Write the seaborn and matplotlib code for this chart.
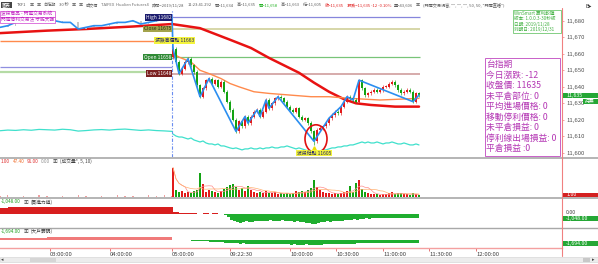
import numpy as np
import pandas as pd
import seaborn as sns
import matplotlib
matplotlib.use("Agg")
import matplotlib.pyplot as plt
from matplotlib.patches import Rectangle, Ellipse
from matplotlib.lines import Line2D

sns.set_theme(style="white")
plt.rcParams['font.family'] = ['Noto Sans CJK TC', 'DejaVu Sans']
plt.rcParams['axes.unicode_minus'] = False

# ---------------- data ----------------
night_close = [11676, 11677, 11679, 11680, 11680, 11681, 11681, 11680, 11679, 11679, 11675, 11676,
               11677, 11677, 11678, 11679, 11679, 11680, 11678, 11679, 11680, 11681, 11682]
day_open = 11658
day_low = 11605
day_change = -12
day_close = [11663, 11655, 11648, 11651, 11655, 11657, 11653, 11649, 11641, 11634,
             11639, 11644, 11645, 11642, 11644, 11640, 11643, 11637, 11631, 11626,
             11620, 11613, 11619, 11616, 11622, 11618, 11622, 11625, 11626, 11622,
             11625, 11632, 11627, 11630, 11633, 11634, 11633, 11631, 11628, 11626,
             11625, 11627, 11622, 11620, 11621, 11618, 11613, 11607, 11614, 11615,
             11616, 11618, 11621, 11623, 11625, 11624, 11628, 11631, 11634, 11633,
             11632, 11631, 11644, 11639, 11635, 11636, 11637, 11638, 11637, 11638,
             11640, 11640, 11642, 11643, 11641, 11638, 11636, 11637, 11638, 11637,
             11631, 11636, 11635]
zigzag_pivots = [0, 2, 5, 9, 12, 21, 24, 25, 28, 29, 31, 32, 35, 47, 52, 56, 58, 60, 62, 80, 82]

red_ma_night_idx = [0, 6, 11, 17, 22]
red_ma_night = [11672.5, 11674, 11675, 11676.5, 11678]
red_ma_day_idx = [0, 9, 19, 26, 32, 42, 47, 52, 57, 61, 66, 74, 82]
red_ma_day = [11678, 11675.5, 11668.5, 11663.5, 11657.5, 11648.5, 11642.5, 11637, 11632.5, 11630, 11629, 11628, 11628]
orange_night_level = 11668
orange_day_idx = [0, 2, 6, 9, 12, 16, 19, 22, 27, 32, 39, 46, 52, 59, 69, 82]
orange_day = [11660, 11658, 11655, 11650, 11648, 11645, 11642, 11640, 11637, 11636, 11635, 11634, 11634, 11633, 11632, 11633]

cyan_night = [11613.4, 11613.8, 11613.6, 11614.0, 11613.7, 11614.2, 11614.0, 11613.8, 11614.3, 11614.0,
              11613.2, 11613.5, 11613.9, 11614.1, 11613.8, 11614.2, 11614.4, 11614.0, 11613.6, 11613.9,
              11613.5, 11613.3, 11613.0]
cyan_day = [11611.4, 11610.2, 11609.6, 11609.6, 11609.0, 11608.4, 11609.0, 11607.8, 11607.2, 11606.6,
            11607.2, 11606.0, 11605.4, 11605.4, 11604.8, 11605.4, 11604.2, 11604.2, 11603.6, 11603.0,
            11602.6, 11603.0, 11602.4, 11601.8, 11602.4, 11602.4, 11603.0, 11602.4, 11602.4, 11603.0,
            11602.4, 11603.0, 11603.0, 11603.6, 11603.0, 11603.0, 11603.6, 11603.6, 11604.2, 11603.6,
            11603.0, 11602.4, 11603.0, 11602.4, 11601.8, 11601.2, 11601.2, 11600.6, 11601.2, 11601.2,
            11601.8, 11601.8, 11602.4, 11603.0, 11603.0, 11603.6, 11603.6, 11604.2, 11604.2, 11604.8,
            11604.8, 11605.4, 11606.0, 11606.6, 11606.0, 11606.6, 11606.0, 11606.0, 11606.6, 11606.0,
            11605.4, 11606.0, 11606.0, 11606.6, 11606.0, 11605.4, 11605.4, 11606.0, 11605.4, 11604.8,
            11604.8, 11605.4, 11604.8]

lines_day = {"High": 11682, "Close": 11675, "Open": 11658, "Low": 11648}
prev_lines = [11652, 11649]
day_high_label = 11663

vol_night = [5, 10, 0, 5, 0, 10, 5, 0, 5, 0, 10, 5, 0, 5, 0, 10, 5, 5, 0, 10, 5, 10, 5]
vol_day = [270, 60, 40, 50, 30, 40, 30, 50, 60, 220,
           120, 40, 60, 50, 40, 30, 50, 70, 90, 110,
           120, 90, 60, 80, 50, 100, 60, 40, 30, 40,
           30, 50, 30, 30, 40, 20, 30, 20, 30, 20,
           30, 50, 40, 50, 40, 60, 80, 150, 90, 60,
           40, 30, 30, 20, 30, 20, 30, 40, 50, 100,
           40, 130, 150, 70, 40, 30, 20, 20, 20, 10,
           20, 20, 30, 40, 20, 30, 30, 20, 20, 10,
           30, 20, 10]

buy_night = [1700, 1750, 1750, 1800, 1800, 1800, 1850, 1900, 1850, 1800, 1800, 1800,
             1750, 1800, 1800, 1800, 1750, 1800, 1800, 1800, 1800, 1800, 1800]
buy_day = [400, 400, 350, 350, 300, 300, 300, 250, 200, -600,
           200, 150, 0, 200, 150, 100, 0, -300, -900, -1500,
           -1900, -2200, -2300, -2100, -2000, -2200, -2100, -1900, -1800, -1900,
           -2000, -1800, -1700, -1900, -2000, -1800, -1700, -1800, -1900, -2000,
           -2100, -2000, -2100, -2200, -2300, -2400, -2800, -2600, -2300, -2200,
           -2100, -2000, -2100, -2000, -1900, -2000, -1800, -1700, -1600, -1500,
           -1400, -1500, -1300, -1300, -1200, -1300, -1200, -1200, -1100, -1200,
           -1100, -1100, -1200, -1100, -1100, -1000, -1100, -1100, -1000, -1100,
           -1100, -1000, -1048]
big_night = [600, 650, 600, 600, 650, 600, 1200, 1250, 1200, 1200, 1250, 1200,
             1200, 1200, 1250, 1200, 1200, 1200, 1250, 1200, 1200, 1200, 1200]
big_day = [-100, -150, -300, -350, -500, -450, -600, -700, -750, -900,
           -950, -1100, -1150, -1300, -1350, -1500, -1550, -1700, -1800, -1850,
           -2000, -2100, -2300, -2200, -2300, -2400, -2450, -2500, -2550, -2500,
           -2600, -2650, -2700, -2650, -2700, -2750, -2800, -2750, -2800, -2850,
           -2800, -2850, -2900, -2850, -2800, -2900, -3000, -2950, -2900, -2850,
           -2800, -2750, -2700, -2650, -2600, -2550, -2500, -2450, -2400, -2350,
           -2300, -2250, -2200, -2150, -2100, -2100, -2050, -2000, -2000, -1950,
           -1900, -1900, -1850, -1850, -1800, -1800, -1750, -1750, -1750, -1700,
           -1700, -1700, -1694]

time_labels = ["03:00:00", "04:00:00", "05:00:00", "09:22:30", "10:00:00",
               "10:30:00", "11:00:00", "11:30:00", "12:00:00"]
time_ticks = [50, 110, 172, 230, 290, 336, 383, 429, 476]

toolbar_items = [("TXF1", '#606060'), ("▣", '#505050'), ("▣", '#505050'), ("台指期", '#606060'),
                 ("30 秒", '#606060'), ("▣", '#505050'), ("▣", '#505050'), ("成交價", '#606060'),
                 ("TAIFEX  Hualien Futures4", '#707070'), ("時間=2019/11/28", '#606060'),
                 ("11:23:41.292", '#606060'), ("開=11,634", '#606060'), ("高=11,635", '#606060'),
                 ("開=11,658", '#20b020'), ("高=11,663", '#606060'), ("低=11,605", '#606060'),
                 ("收=11,635", '#e02020'), ("漲跌=11,635 -12 -0.10%", '#e02020'),
                 ("量=43,606", '#606060'), ("▣", '#505050'),
                 ('(閃電交易視窗, "", "", "", 50, 50, "閃電直播")', '#606060')]
vol_header = [("1.00", '#e03030'), ("47.40", '#f07030'), ("91.00", '#e03030'), ("0.00", '#909090'),
              ("▣", '#404040'), ("(成交量*, 5, 10)", '#404040')]
buy_header = [("-1,048.00", '#20a020'), ("▣", '#404040'), ("(買進力道)", '#404040')]
big_header = [("-1,694.00", '#20a020'), ("▣", '#404040'), ("(大戶籌碼)", '#404040')]

# ---------------- figure ----------------
W, H = 598, 264
fig = plt.figure(figsize=(W / 100, H / 100), dpi=100)
fig.patch.set_facecolor('white')

def rect(x0, y0, x1, y1):
    return [x0 / W, 1 - y1 / H, (x1 - x0) / W, (y1 - y0) / H]

def fx(x):
    return x / W

def fy(y):
    return 1 - y / H

def ftext(x, y, s, **kw):
    kw.setdefault('va', 'center')
    kw.setdefault('ha', 'left')
    return fig.text(fx(x), fy(y), s, **kw)

def fbox(x0, y0, x1, y1, fc, ec='none', lw=0.6, z=1):
    fig.add_artist(Rectangle((fx(x0), fy(y1)), (x1 - x0) / W, (y1 - y0) / H,
                             transform=fig.transFigure, fc=fc, ec=ec, lw=lw, zorder=z))

def fline(x0, y0, x1, y1, color, lw, ls='-'):
    fig.add_artist(Line2D([fx(x0), fx(x1)], [fy(y0), fy(y1)], color=color, lw=lw, ls=ls))

renderer = fig.canvas.get_renderer()

def flow(x, y, items, size, gap):
    cx = x
    for s, c in items:
        t = ftext(cx, y, s, fontsize=size, color=c)
        cx = t.get_window_extent(renderer=renderer).x1 + gap

ax = fig.add_axes(rect(0, 10, 562, 157))
ax_v = fig.add_axes(rect(0, 159, 562, 196.5))
ax_b = fig.add_axes(rect(0, 198.5, 562, 227.5))
ax_d = fig.add_axes(rect(0, 228.5, 562, 247.5))
for a in (ax, ax_v, ax_b, ax_d):
    a.set_xlim(0, 562)
    a.set_facecolor('white')
    for s in a.spines.values():
        s.set_visible(False)
    a.set_xticks([])
    a.set_yticks([])
    a.grid(False)

RED = '#e21b1b'
GREEN = '#13a313'

night_x = np.linspace(0, 172, len(night_close))
day_x = 173 + np.arange(len(day_close)) * 3.0
d_close = np.array(day_close, dtype=float)
d_open = np.array([day_open] + day_close[:-1], dtype=float)
up = d_close >= d_open
cols = np.where(up, RED, GREEN)

# ---------- main price panel ----------
ax.set_ylim(11597.5, 11686.5)
ax.yaxis.tick_right()
yt = list(range(11600, 11681, 10))
ax.set_yticks(yt)
ax.set_yticklabels([f"{v:,}" for v in yt])
ax.tick_params(axis='y', labelsize=4.3, labelcolor='#505050', color='#f08080',
               length=1.5, width=0.5, pad=2)

ax.hlines(prev_lines[0], 0, 172, color='#8f8fe0', lw=0.9, zorder=2)
ax.hlines(prev_lines[1], 0, 172, color='#b5dba5', lw=1.6, zorder=2)
ax.hlines(orange_night_level, 0, 155, color='#ff8a4c', lw=1.0, zorder=2)

x_end = day_x[-1] + 1
ax.hlines(lines_day["High"], 172, x_end, color='#8686dc', lw=0.9, zorder=2)
ax.hlines(lines_day["Close"], 172, x_end, color='#d6d6a8', lw=1.4, zorder=2)
ax.hlines(lines_day["Open"], 172, x_end, color='#78c478', lw=0.9, zorder=2)
ax.hlines(lines_day["Low"], 172, x_end, color='#cc9494', lw=1.1, zorder=2)

ax.axvline(172, color='#6a8df0', lw=0.8, ls=(0, (3, 1.5, 1, 1.5)), zorder=1)

sns.lineplot(x=night_x, y=cyan_night, ax=ax, color='#3fe0cc', lw=0.9, sort=False, estimator=None, legend=False)
sns.lineplot(x=day_x, y=cyan_day, ax=ax, color='#3fe0cc', lw=0.9, sort=False, estimator=None, legend=False)

sns.lineplot(x=night_x[red_ma_night_idx], y=red_ma_night, ax=ax, color='#e81212', lw=1.8,
             sort=False, estimator=None, legend=False)
sns.lineplot(x=np.r_[172, day_x[red_ma_day_idx][1:]], y=red_ma_day, ax=ax, color='#e81212', lw=1.8,
             sort=False, estimator=None, legend=False)
sns.lineplot(x=day_x[orange_day_idx], y=orange_day, ax=ax, color='#ff8a4c', lw=1.0,
             sort=False, estimator=None, legend=False)

n_close = np.array(night_close, dtype=float)
n_open = np.r_[n_close[0], n_close[:-1]]
ax.bar(night_x, np.maximum(np.abs(n_close - n_open), 0.5), bottom=np.minimum(n_open, n_close),
       width=1.6, color='#c4c4c4', lw=0, zorder=3)

body_lo = np.minimum(d_open, d_close)
body_hi = np.maximum(d_open, d_close)
wick_lo = body_lo - 1.0
wick_hi = body_hi + 1.0
imin = int(np.argmin(d_close))
wick_lo[imin] = day_low
ax.vlines(day_x, wick_lo, wick_hi, colors=cols, lw=0.45, zorder=3)
ax.bar(day_x, np.maximum(body_hi - body_lo, 0.5), bottom=body_lo, width=1.5, color=cols, lw=0, zorder=3)

zz_x = np.r_[night_x, day_x[zigzag_pivots]]
zz_y = np.r_[n_close, d_close[zigzag_pivots]]
sns.lineplot(x=zz_x, y=zz_y, ax=ax, color='#2b8ef0', lw=1.2, sort=False, estimator=None,
             legend=False, zorder=4)

lab_kw = dict(fontsize=3.5, va='center', zorder=6)
ax.text(171.5, lines_day["High"], f"High {lines_day['High']}", ha='right', color='white',
        bbox=dict(boxstyle='square,pad=0.15', fc='#1d1d6e', ec='none'), **lab_kw)
ax.text(171.5, lines_day["Close"], f"Close {lines_day['Close']}", ha='right', color='#2a2a10',
        bbox=dict(boxstyle='square,pad=0.15', fc='#a3a34c', ec='none'), **lab_kw)
ax.text(155, orange_night_level, f"漲跌高價點 {day_high_label}", ha='left', color='#1d1d6e',
        bbox=dict(boxstyle='square,pad=0.15', fc='#f4f43c', ec='none'), **lab_kw)
ax.text(171.5, lines_day["Open"], f"Open {lines_day['Open']}", ha='right', color='white',
        bbox=dict(boxstyle='square,pad=0.15', fc='#2f8a35', ec='none'), **lab_kw)
ax.text(171.5, lines_day["Low"], f"Low {lines_day['Low']}", ha='right', color='white',
        bbox=dict(boxstyle='square,pad=0.15', fc='#7c2020', ec='none'), **lab_kw)

ax.add_patch(Ellipse((day_x[imin] + 2, d_close[imin] + 1.5), 22, 17, fc='none', ec='#e01010', lw=1.2, zorder=5))
ax.plot([day_x[imin]], [day_low - 2], marker='^', color='#f0e000', ms=2.5, zorder=6)
ax.text(day_x[imin], day_low - 5, f"波段低點 {day_low}", ha='center', color='#1d1d6e',
        bbox=dict(boxstyle='square,pad=0.15', fc='#f4f43c', ec='none'), **lab_kw)

# ---------- volume ----------
ax_v.set_ylim(0, 350)
ax_v.bar(night_x, vol_night, width=1.3, color='#f0a0a0', lw=0)
ax_v.bar(day_x, vol_day, width=1.4, color=cols, lw=0)
vs = pd.Series(vol_day, dtype=float)
sns.lineplot(x=day_x, y=vs.rolling(5, min_periods=1).mean().values, ax=ax_v, color='#ff8c8c',
             lw=0.5, sort=False, estimator=None, legend=False)
sns.lineplot(x=day_x, y=vs.rolling(10, min_periods=1).mean().values, ax=ax_v, color='#ffb070',
             lw=0.5, sort=False, estimator=None, legend=False)

# ---------- buying power ----------
ax_b.set_ylim(-3640, 4160)
bx = np.r_[night_x, day_x]
bv = np.r_[buy_night, buy_day].astype(float)
ax_b.fill_between(bx, 0, bv, where=bv >= 0, color='#d81e1e', lw=0, step='post')
ax_b.fill_between(bx, 0, bv, where=bv < 0, color='#1fae2f', lw=0, step='post')

# ---------- big traders ----------
ax_d.set_ylim(-4520, 6215)
dv = np.r_[big_night, big_day].astype(float)
ax_d.fill_between(bx, 0, dv, where=dv >= 0, color='#f07a7a', lw=0, step='post')
ax_d.fill_between(bx, 0, dv, where=dv < 0, color='#1fae2f', lw=0, step='post')
ax_d.spines['bottom'].set_visible(True)
ax_d.spines['bottom'].set_color('#f4a0a0')
ax_d.spines['bottom'].set_linewidth(1.0)
ax_d.set_xticks(time_ticks)
ax_d.set_xticklabels(time_labels)
ax_d.tick_params(axis='x', labelsize=4.3, labelcolor='#404040', color='#e06060',
                 length=2, width=0.6, pad=1.5, bottom=True)
for lbl in ax_d.get_xticklabels():
    lbl.set_ha('left')

# ---------- frame lines ----------
fline(0, 157.5, 598, 157.5, '#a8a8a8', 1.2)
fline(0, 197.8, 598, 197.8, '#a8a8a8', 1.2)
fline(0, 228, 598, 228, '#a8a8a8', 1.0)
fline(562, 8, 562, 256, '#f08080', 0.8)

# ---------- toolbar ----------
ftext(2, 5, "圖表", fontsize=3.2, color='white', bbox=dict(boxstyle='square,pad=0.2', fc='#454545', ec='none'))
flow(17.0, 5, toolbar_items, 3.0, 3.0)
ftext(585, 6, "B▸", fontsize=4, color='#303030')

# top-left magenta notes
fbox(0, 10.5, 55, 16.5, 'white', ec='#d040d0', lw=0.5, z=5)
fbox(0, 16.5, 55, 22.5, 'white', ec='#d040d0', lw=0.5, z=5)
ftext(1, 13.5, "波段商品 - 閃電交易系統", fontsize=3.4, color='#c020c0', zorder=6)
ftext(1, 19.5, "閃電停利交易法 才能大賺", fontsize=3.4, color='#c020c0', zorder=6)

# WinSmart box
fbox(513, 10, 561, 33, 'white', ec='#70c870', lw=0.6, z=5)
for i, s in enumerate(["WinSmart 贏利軟體", "版本: 1.0.0.3-30秒版", "日期: 2019/11/28", "到期日: 2019/12/31"]):
    ftext(514.5, 13.2 + i * 5.5, s, fontsize=3.3, color='#40b040', zorder=6)

# magenta info box
fbox(485, 58, 560, 156, 'white', ec='#c860c8', lw=0.7, z=5)
info_lines = ["台指期", f"今日漲跌: {day_change}", f"收盤價: {day_close[-1]}", "未平倉部位: 0",
              "平均進場價格: 0", "移動停利價格: 0", "未平倉損益: 0", "停利線出場損益: 0", "平倉損益 :0"]
for i, s in enumerate(info_lines):
    ftext(486, 64.5 + i * 10.5, s, fontsize=6.3, color='#b437b4', zorder=6)

# right side value boxes
fbox(563, 92.5, 598, 97.5, '#25a735', z=5)
ftext(566, 95, f"{day_close[-1]:,}", fontsize=3.8, color='white', zorder=6)
fbox(583, 98.5, 598, 103.5, '#25a735', z=5)
ftext(585, 101, "持無", fontsize=3.5, color='white', zorder=6)
fbox(563, 192.5, 598, 197, '#d42020', z=5)
ftext(566, 194.7, "1.00", fontsize=3.8, color='white', zorder=6)
ftext(566, 212.3, "0.00", fontsize=3.8, color='#404040', zorder=6)
fbox(563, 215.5, 598, 220.5, '#25a735', z=5)
ftext(566, 218, "-1,048.00", fontsize=3.8, color='white', zorder=6)
fbox(563, 240.5, 598, 245.5, '#25a735', z=5)
ftext(566, 243, "-1,694.00", fontsize=3.8, color='white', zorder=6)

# panel headers
flow(1, 161.5, vol_header, 3.4, 2.5)
flow(1, 202, buy_header, 3.4, 2.5)
flow(1, 231.5, big_header, 3.4, 2.5)

# scrollbar
fbox(0, 257, 598, 262, '#ececec', ec='#d0d0d0', lw=0.4, z=1)
fbox(30, 257.5, 56, 261.5, '#d6d6d6', z=2)
fbox(583, 257.5, 590, 261.5, '#c8c8c8', z=2)
ftext(1, 259.5, "◂", fontsize=3.5, color='#404040')
ftext(592, 259.5, "▸", fontsize=3.5, color='#404040')

fig.savefig("out.png", dpi=100, facecolor='white')
